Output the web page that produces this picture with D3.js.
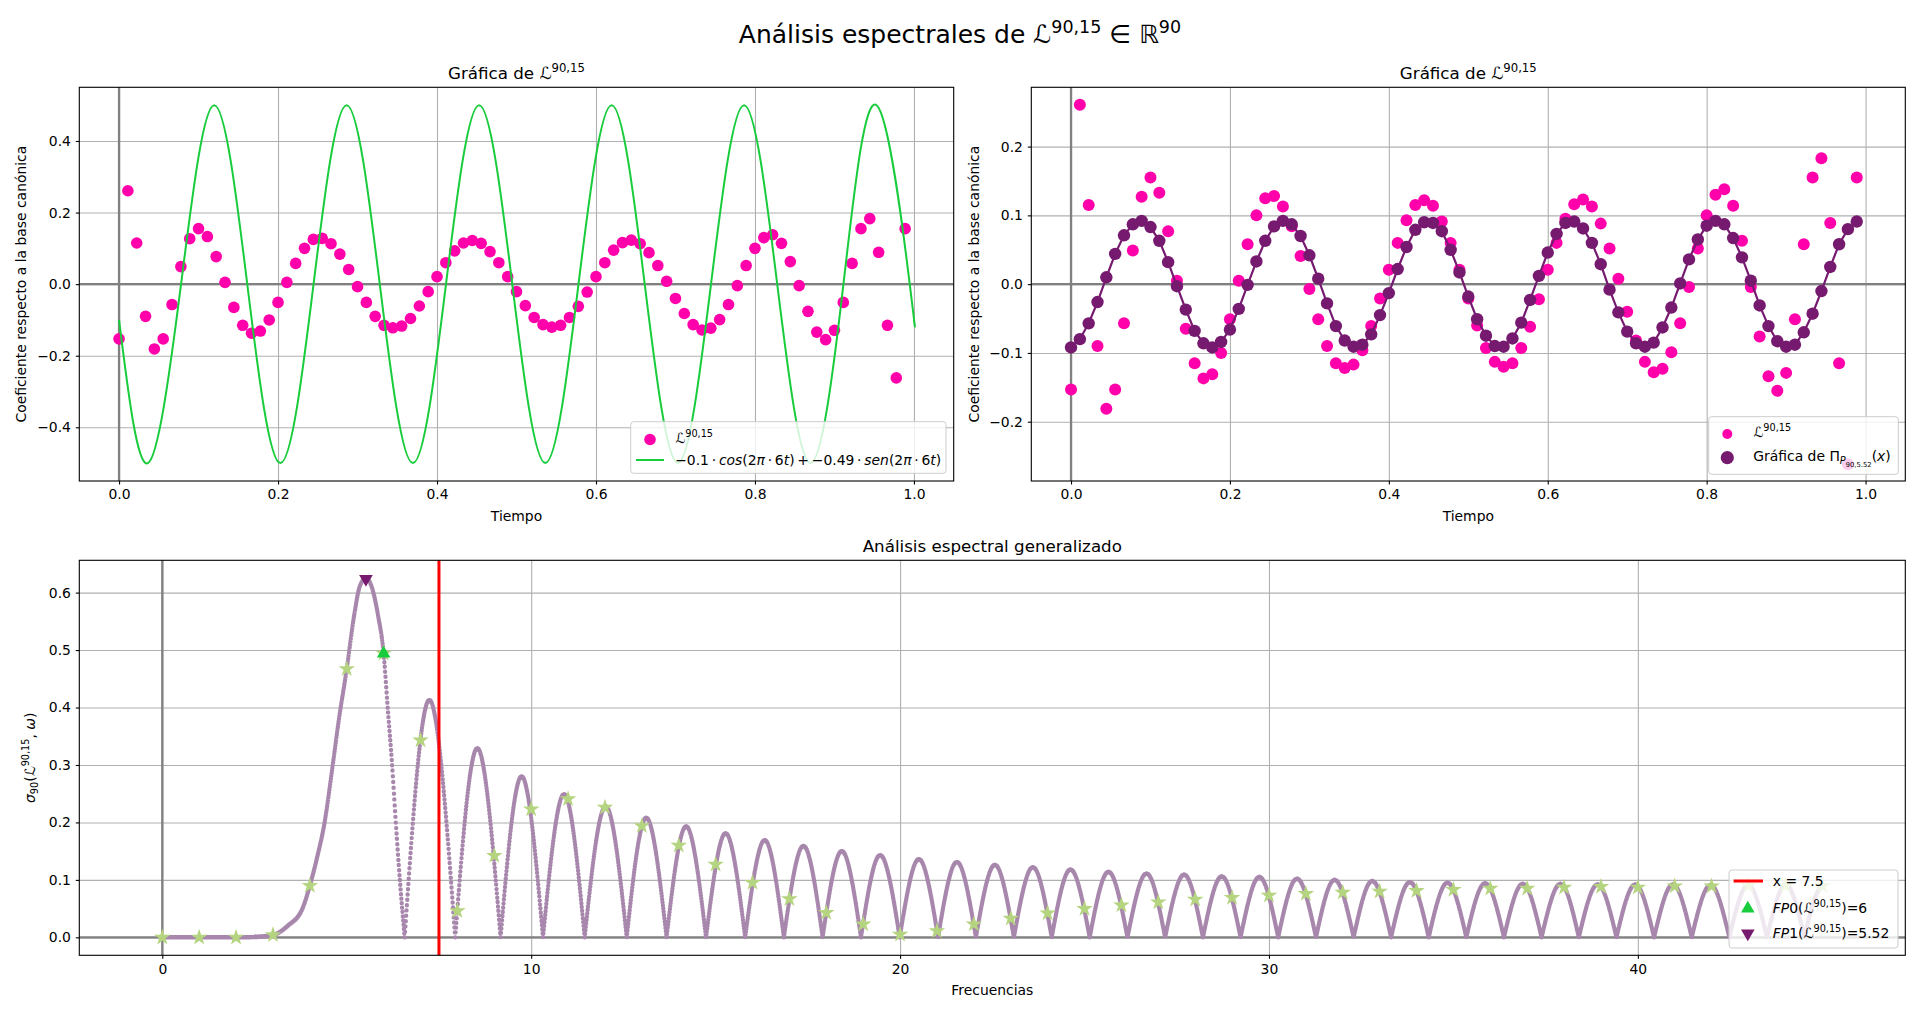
<!DOCTYPE html>
<html><head><meta charset="utf-8">
<script src="https://cdn.jsdelivr.net/npm/d3@7"></script>
<style>
html,body{margin:0;padding:0;background:#fff;}
svg{display:block;}
</style></head><body>
<svg id="c" width="1920" height="1013"></svg>
<script>
// ---------------- DATA ----------------
const nMuestras = 90;
const senal = [
-0.153, 0.261, 0.115, -0.090, -0.181, -0.153, -0.057, 0.049, 0.127, 0.155,
0.133, 0.077, 0.005, -0.065, -0.115, -0.137, -0.131, -0.100, -0.051, 0.005,
0.058, 0.100, 0.125, 0.128, 0.113, 0.084, 0.041, -0.007, -0.051, -0.090,
-0.115, -0.122, -0.117, -0.096, -0.061, -0.021, 0.021, 0.060, 0.093, 0.115,
0.122, 0.114, 0.091, 0.060, 0.021, -0.021, -0.060, -0.093, -0.113, -0.120,
-0.115, -0.093, -0.062, -0.022, 0.021, 0.060, 0.095, 0.116, 0.123, 0.113,
0.088, 0.052, 0.008, -0.040, -0.082, -0.113, -0.128, -0.123, -0.099, -0.057,
-0.004, 0.052, 0.100, 0.130, 0.138, 0.114, 0.063, -0.004, -0.076, -0.134,
-0.155, -0.129, -0.051, 0.058, 0.155, 0.183, 0.089, -0.115, -0.262, 0.155];
const proyeccion = [
-0.092, -0.080, -0.057, -0.026, 0.010, 0.044, 0.071, 0.087, 0.092, 0.083,
0.063, 0.032, -0.003, -0.037, -0.068, -0.086, -0.092, -0.084, -0.066, -0.036,
-0.001, 0.033, 0.063, 0.084, 0.092, 0.087, 0.070, 0.042, 0.008, -0.028,
-0.061, -0.082, -0.091, -0.088, -0.073, -0.045, -0.013, 0.022, 0.054, 0.079,
0.090, 0.089, 0.077, 0.050, 0.017, -0.018, -0.051, -0.075, -0.090, -0.091,
-0.079, -0.056, -0.023, 0.012, 0.046, 0.073, 0.089, 0.091, 0.081, 0.060,
0.029, -0.008, -0.041, -0.069, -0.086, -0.091, -0.085, -0.063, -0.034, 0.001,
0.036, 0.065, 0.085, 0.092, 0.087, 0.067, 0.039, 0.005, -0.031, -0.061,
-0.083, -0.091, -0.088, -0.070, -0.043, -0.010, 0.025, 0.058, 0.080, 0.091];
// green curve: extrema and zero crossings
const verdeT = [0, 0.0363, 0.0780, 0.1197, 0.1613, 0.2030, 0.2447, 0.2863, 0.3280, 0.3697,
  0.4113, 0.4530, 0.4947, 0.5363, 0.5780, 0.6197, 0.6613, 0.7030, 0.7447, 0.7863,
  0.8280, 0.8697, 0.9113, 0.9530, 0.9947, 1.0];
const verdeY = [-0.1, -0.5, 0, 0.5, 0, -0.5, 0, 0.5, 0, -0.5,
  0, 0.5, 0, -0.5, 0, 0.5, 0, -0.5, 0, 0.5,
  0, -0.5, 0, 0.5, 0, -0.1];
// spectral curve: main hump
const humpW = [0, 1, 2, 2.5, 3, 3.4, 3.8, 4.0, 4.2, 4.4, 4.6, 4.8, 5.0, 5.2, 5.35, 5.52, 5.7, 5.85, 6.0, 6.11, 6.23, 6.33, 6.44, 6.57];
const humpS = [0, 0, 0, 0.0005, 0.004, 0.02, 0.05, 0.09, 0.14, 0.2, 0.29, 0.385, 0.467, 0.56, 0.61, 0.625, 0.605, 0.56, 0.494, 0.40, 0.30, 0.20, 0.10, 0];
// spectral curve: zeros and lobe tops
const lobeZeros = [6.57, 7.94, 9.17, 10.32, 11.45, 12.59, 13.67, 14.74, 15.80, 16.85, 17.90, 18.94, 19.99,
  21.03, 22.055, 23.085, 24.11, 25.14, 26.165, 27.185, 28.21, 29.23, 30.25, 31.275, 32.295, 33.31,
  34.33, 35.35, 36.37, 37.39, 38.40, 39.42, 40.44, 41.46, 42.48, 43.50, 44.52];
const lobePeakW = [7.24, 8.54, 9.74, 10.89, 12.02, 13.12, 14.20, 15.27, 16.33, 17.38, 18.42, 19.46,
  20.51, 21.54, 22.57, 23.60, 24.62, 25.65, 26.68, 27.70, 28.72, 29.74, 30.76, 31.78, 32.80, 33.82,
  34.84, 35.86, 36.88, 37.90, 38.91, 39.93, 40.95, 41.97, 42.99, 44.01];
const lobePeakS = [0.413, 0.329, 0.280, 0.249, 0.228, 0.208, 0.193, 0.181, 0.169, 0.159, 0.150, 0.143,
  0.136, 0.131, 0.126, 0.122, 0.118, 0.114, 0.111, 0.109, 0.106, 0.105, 0.102, 0.100, 0.098, 0.096,
  0.095, 0.094, 0.093, 0.093, 0.092, 0.092, 0.092, 0.091, 0.091, 0.091];
const tailW = [44.52, 44.76, 45.0];
const tailS = [0, 0.062, 0.091];
// values at integer frequencies (stars)
const frecEnteras = d3.range(0, 46);
const sigmaEnteras = [0, 0, 0, 0.004, 0.090, 0.467, 0.494, 0.343, 0.046, 0.142,
  0.223, 0.241, 0.226, 0.194, 0.160, 0.127, 0.095, 0.067, 0.043, 0.023,
  0.005, 0.011, 0.023, 0.033, 0.042, 0.050, 0.056, 0.061, 0.066, 0.069,
  0.073, 0.076, 0.078, 0.080, 0.081, 0.083, 0.085, 0.085, 0.087, 0.088,
  0.087, 0.089, 0.089, 0.090, 0.090, 0.090];
const fp0 = [6, 0.494];
const fp1 = [5.52, 0.624];
const lineaX = 7.5;
// ticks
const ticksT = [0, 0.2, 0.4, 0.6, 0.8, 1.0];
const ticksYIzq = [-0.4, -0.2, 0, 0.2, 0.4];
const ticksYDer = [-0.2, -0.1, 0, 0.1, 0.2];
const ticksFrec = [0, 10, 20, 30, 40];
const ticksSigma = [0, 0.1, 0.2, 0.3, 0.4, 0.5, 0.6];

// ---------------- STYLE ----------------
const FONT = "'DejaVu Sans', sans-serif";
const PINK = '#ff00aa', PURPLE = '#761a70', GREEN = '#18cc3c', LILAC = '#a887ad', STAR = '#b4d47f';
const FS = 13.9;
const svg = d3.select('#c').attr('font-family', FONT);

function rich(sel, parts, fs) {
  let cur = 0;
  for (const p of parts) {
    let off = 0, f = fs;
    if (p.sup) { off = -0.4 * fs; f = 0.7 * fs; }
    if (p.sub) { off = 0.22 * fs; f = 0.7 * fs; }
    if (p.subsub) { off = 0.42 * fs; f = 0.49 * fs; }
    const ts = sel.append('tspan').attr('font-size', f).text(p.t);
    if (off !== cur) ts.attr('dy', off - cur);
    if (p.it) ts.attr('font-style', 'italic');
    cur = off;
  }
  return sel;
}
const L9015 = [{t: 'ℒ'}, {t: '90,15', sup: 1}];

function panel(box, x, y, xt, yt, fx, fy) {
  const g = svg.append('g');
  const h = box.y1 - box.y0, w = box.x1 - box.x0;
  g.append('g').attr('transform', `translate(0,${box.y1})`)
    .call(d3.axisBottom(x).tickValues(xt).tickSize(-h).tickFormat(''))
    .call(s => { s.select('.domain').remove(); s.selectAll('line').attr('stroke', '#b0b0b0').attr('stroke-width', 1.1); });
  g.append('g').attr('transform', `translate(${box.x0},0)`)
    .call(d3.axisLeft(y).tickValues(yt).tickSize(-w).tickFormat(''))
    .call(s => { s.select('.domain').remove(); s.selectAll('line').attr('stroke', '#b0b0b0').attr('stroke-width', 1.1); });
  // zero lines
  g.append('line').attr('x1', x(0)).attr('x2', x(0)).attr('y1', box.y0).attr('y2', box.y1)
    .attr('stroke', '#808080').attr('stroke-width', 2.3);
  g.append('line').attr('x1', box.x0).attr('x2', box.x1).attr('y1', y(0)).attr('y2', y(0))
    .attr('stroke', '#808080').attr('stroke-width', 2.3);
  const data = svg.append('g');
  const top = svg.append('g');
  top.append('rect').attr('x', box.x0).attr('y', box.y0).attr('width', w).attr('height', h)
    .attr('fill', 'none').attr('stroke', '#000').attr('stroke-width', 1.1);
  top.append('g').attr('transform', `translate(0,${box.y1})`)
    .call(d3.axisBottom(x).tickValues(xt).tickFormat(fx).tickSize(3.5).tickPadding(4.9))
    .call(s => { s.select('.domain').remove(); s.attr('font-family', FONT).attr('font-size', FS).attr('color', '#000'); s.selectAll('line').attr('stroke-width', 1.1); });
  top.append('g').attr('transform', `translate(${box.x0},0)`)
    .call(d3.axisLeft(y).tickValues(yt).tickFormat(fy).tickSize(3.5).tickPadding(4.9))
    .call(s => { s.select('.domain').remove(); s.attr('font-family', FONT).attr('font-size', FS).attr('color', '#000'); s.selectAll('line').attr('stroke-width', 1.1); });
  return {data, top};
}
function legendBox(g, x, y, w, h) {
  g.append('rect').attr('x', x).attr('y', y).attr('width', w).attr('height', h).attr('rx', 3)
    .attr('fill', '#fff').attr('fill-opacity', 0.8).attr('stroke', '#cccccc').attr('stroke-width', 1);
}

// ---------------- SUPTITLE ----------------
rich(svg.append('text').attr('x', 960).attr('y', 43).attr('text-anchor', 'middle').attr('font-size', 25),
  [{t: 'Análisis espectrales de '}, ...L9015, {t: ' ∈ '}, {t: 'ℝ'}, {t: '90', sup: 1}], 25);

const f1 = d3.format('.1f');
const tiempo = d3.range(nMuestras).map(k => k / nMuestras);

// ---------------- TOP LEFT ----------------
const bTL = {x0: 79.3, x1: 953.7, y0: 87.3, y1: 481};
const xTL = d3.scaleLinear().domain([-0.05, 1.05]).range([bTL.x0, bTL.x1]);
const yTL = d3.scaleLinear().domain([-0.55, 0.55]).range([bTL.y1, bTL.y0]);
const pTL = panel(bTL, xTL, yTL, ticksT, ticksYIzq, f1, f1);
pTL.data.selectAll('circle').data(senal).join('circle')
  .attr('cx', (d, i) => xTL(tiempo[i])).attr('cy', d => yTL(d)).attr('r', 5.8).attr('fill', PINK);
pTL.data.append('path').datum(verdeT.map((t, i) => [t, verdeY[i]]))
  .attr('d', d3.line().x(d => xTL(d[0])).y(d => yTL(d[1])).curve(d3.curveNatural))
  .attr('fill', 'none').attr('stroke', GREEN).attr('stroke-width', 2);
rich(svg.append('text').attr('x', (bTL.x0 + bTL.x1) / 2).attr('y', 79).attr('text-anchor', 'middle').attr('font-size', 16.7),
  [{t: 'Gráfica de '}, ...L9015], 16.7);
svg.append('text').attr('x', (bTL.x0 + bTL.x1) / 2).attr('y', 521).attr('text-anchor', 'middle').attr('font-size', FS).text('Tiempo');
svg.append('text').attr('transform', `translate(25.5,${(bTL.y0 + bTL.y1) / 2}) rotate(-90)`).attr('text-anchor', 'middle')
  .attr('font-size', FS).text('Coeficiente respecto a la base canónica');
{
  const g = pTL.top;
  legendBox(g, 630.7, 421.7, 315.3, 51.6);
  g.append('circle').attr('cx', 650).attr('cy', 439.5).attr('r', 5.8).attr('fill', PINK);
  rich(g.append('text').attr('x', 675.2).attr('y', 443).attr('font-size', FS), L9015, FS);
  g.append('line').attr('x1', 636).attr('x2', 664).attr('y1', 460).attr('y2', 460).attr('stroke', GREEN).attr('stroke-width', 2);
  const th = '\u2009';
  rich(g.append('text').attr('x', 675.2).attr('y', 465).attr('font-size', FS), [
    {t: `−0.1${th}·${th}`}, {t: 'cos', it: 1}, {t: '(2'}, {t: 'π', it: 1}, {t: `${th}·${th}6`}, {t: 't', it: 1},
    {t: `)${th}+${th}−0.49${th}·${th}`}, {t: 'sen', it: 1}, {t: '(2'}, {t: 'π', it: 1}, {t: `${th}·${th}6`}, {t: 't', it: 1}, {t: ')'}
  ], FS);
}

// ---------------- TOP RIGHT ----------------
const bTR = {x0: 1031.3, x1: 1905.3, y0: 87.3, y1: 481};
const xTR = d3.scaleLinear().domain([-0.05, 1.05]).range([bTR.x0, bTR.x1]);
const yTR = d3.scaleLinear().domain([-0.2862, 0.2862]).range([bTR.y1, bTR.y0]);
const pTR = panel(bTR, xTR, yTR, ticksT, ticksYDer, f1, f1);
pTR.data.append('g').selectAll('circle').data(senal).join('circle')
  .attr('cx', (d, i) => xTR(tiempo[i])).attr('cy', d => yTR(d)).attr('r', 6).attr('fill', PINK);
pTR.data.append('path').datum(proyeccion)
  .attr('d', d3.line().x((d, i) => xTR(tiempo[i])).y(d => yTR(d)))
  .attr('fill', 'none').attr('stroke', PURPLE).attr('stroke-width', 2.2);
pTR.data.append('g').selectAll('circle').data(proyeccion).join('circle')
  .attr('cx', (d, i) => xTR(tiempo[i])).attr('cy', d => yTR(d)).attr('r', 6.2).attr('fill', PURPLE);
rich(svg.append('text').attr('x', (bTR.x0 + bTR.x1) / 2).attr('y', 79).attr('text-anchor', 'middle').attr('font-size', 16.7),
  [{t: 'Gráfica de '}, ...L9015], 16.7);
svg.append('text').attr('x', (bTR.x0 + bTR.x1) / 2).attr('y', 521).attr('text-anchor', 'middle').attr('font-size', FS).text('Tiempo');
svg.append('text').attr('transform', `translate(978.5,${(bTR.y0 + bTR.y1) / 2}) rotate(-90)`).attr('text-anchor', 'middle')
  .attr('font-size', FS).text('Coeficiente respecto a la base canónica');
{
  const g = pTR.top;
  legendBox(g, 1708.7, 416.7, 189.6, 57.6);
  g.append('circle').attr('cx', 1727.3).attr('cy', 434).attr('r', 5).attr('fill', PINK);
  rich(g.append('text').attr('x', 1753.3).attr('y', 437).attr('font-size', FS), L9015, FS);
  g.append('circle').attr('cx', 1727.3).attr('cy', 457.7).attr('r', 6.6).attr('fill', PURPLE);
  rich(g.append('text').attr('x', 1753.3).attr('y', 461).attr('font-size', FS), [
    {t: 'Gráfica de Π'}, {t: 'P', sub: 1, it: 1}, {t: '90,5.52', subsub: 1}, {t: '('}, {t: 'x', it: 1}, {t: ')'}
  ], FS);
}

// ---------------- BOTTOM ----------------
const bB = {x0: 79.3, x1: 1905.3, y0: 560.3, y1: 955.3};
const xB = d3.scaleLinear().domain([-2.25, 47.25]).range([bB.x0, bB.x1]);
const yB = d3.scaleLinear().domain([-0.03125, 0.65625]).range([bB.y1, bB.y0]);
const pB = panel(bB, xB, yB, ticksFrec, ticksSigma, d3.format('d'), f1);
{
  // spectral curve drawn as a dense run of small dots (one every 0.01 in frequency)
  const segs = [];
  segs.push({pts: humpW.map((w, i) => [w, humpS[i]]), curve: d3.curveMonotoneX});
  lobePeakW.forEach((w, i) => segs.push({pts: [[lobeZeros[i], 0], [w, lobePeakS[i]], [lobeZeros[i + 1], 0]], curve: d3.curveNatural}));
  segs.push({pts: tailW.map((w, i) => [w, tailS[i]]), curve: d3.curveNatural});
  const hid = svg.append('g').attr('visibility', 'hidden');
  const step = 0.01;
  let j = 0;
  const r = 2.2;
  let dstr = '';
  for (const s of segs) {
    const node = hid.append('path').attr('d', d3.line().x(d => xB(d[0])).y(d => yB(d[1])).curve(s.curve)(s.pts)).node();
    const L = node.getTotalLength();
    for (let l = 0; l <= L + 0.001; l += 0.25) {
      const p = node.getPointAtLength(Math.min(l, L));
      if (p.x >= xB(j * step) - 1e-6) {
        dstr += `M${(p.x + r).toFixed(2)},${p.y.toFixed(2)}a${r},${r} 0 1,0 ${-2 * r},0a${r},${r} 0 1,0 ${2 * r},0`;
        while (p.x >= xB(j * step) - 1e-6) j++;
      }
    }
  }
  hid.remove();
  pB.data.append('path').attr('d', dstr).attr('fill', LILAC);
  pB.data.append('g').selectAll('path').data(frecEnteras).join('path')
    .attr('transform', (d, i) => `translate(${xB(d)},${yB(sigmaEnteras[i])})`)
    .attr('d', d3.symbol().type(d3.symbolStar).size(85)).attr('fill', STAR);
  pB.data.append('line').attr('x1', xB(lineaX)).attr('x2', xB(lineaX)).attr('y1', bB.y0).attr('y2', bB.y1)
    .attr('stroke', '#ff0000').attr('stroke-width', 3);
  pB.data.append('path').attr('transform', `translate(${xB(fp0[0])},${yB(fp0[1])})`)
    .attr('d', d3.symbol().type(d3.symbolTriangle).size(80)).attr('fill', GREEN);
  pB.data.append('path').attr('transform', `translate(${xB(fp1[0])},${yB(fp1[1])}) rotate(180)`)
    .attr('d', d3.symbol().type(d3.symbolTriangle).size(80)).attr('fill', PURPLE);
}
svg.append('text').attr('x', (bB.x0 + bB.x1) / 2).attr('y', 552).attr('text-anchor', 'middle').attr('font-size', 16.7).text('Análisis espectral generalizado');
svg.append('text').attr('x', (bB.x0 + bB.x1) / 2).attr('y', 995).attr('text-anchor', 'middle').attr('font-size', FS).text('Frecuencias');
rich(svg.append('text').attr('transform', `translate(35,${(bB.y0 + bB.y1) / 2}) rotate(-90)`).attr('text-anchor', 'middle').attr('font-size', FS),
  [{t: 'σ', it: 1}, {t: '90', sub: 1}, {t: '('}, ...L9015, {t: ', '}, {t: 'ω', it: 1}, {t: ')'}], FS);
{
  const g = pB.top;
  legendBox(g, 1729, 870, 169, 78);
  g.append('line').attr('x1', 1733.6).attr('x2', 1763).attr('y1', 881).attr('y2', 881).attr('stroke', '#ff0000').attr('stroke-width', 3);
  g.append('text').attr('x', 1772.8).attr('y', 886).attr('font-size', FS).text('x = 7.5');
  g.append('path').attr('transform', 'translate(1747.8,908.5)').attr('d', d3.symbol().type(d3.symbolTriangle).size(80)).attr('fill', GREEN);
  rich(g.append('text').attr('x', 1772.8).attr('y', 913).attr('font-size', FS),
    [{t: 'FP', it: 1}, {t: '0('}, ...L9015, {t: ')=6'}], FS);
  g.append('path').attr('transform', 'translate(1747.8,933.5) rotate(180)').attr('d', d3.symbol().type(d3.symbolTriangle).size(80)).attr('fill', PURPLE);
  rich(g.append('text').attr('x', 1772.8).attr('y', 938).attr('font-size', FS),
    [{t: 'FP', it: 1}, {t: '1('}, ...L9015, {t: ')=5.52'}], FS);
}
</script></body></html>
